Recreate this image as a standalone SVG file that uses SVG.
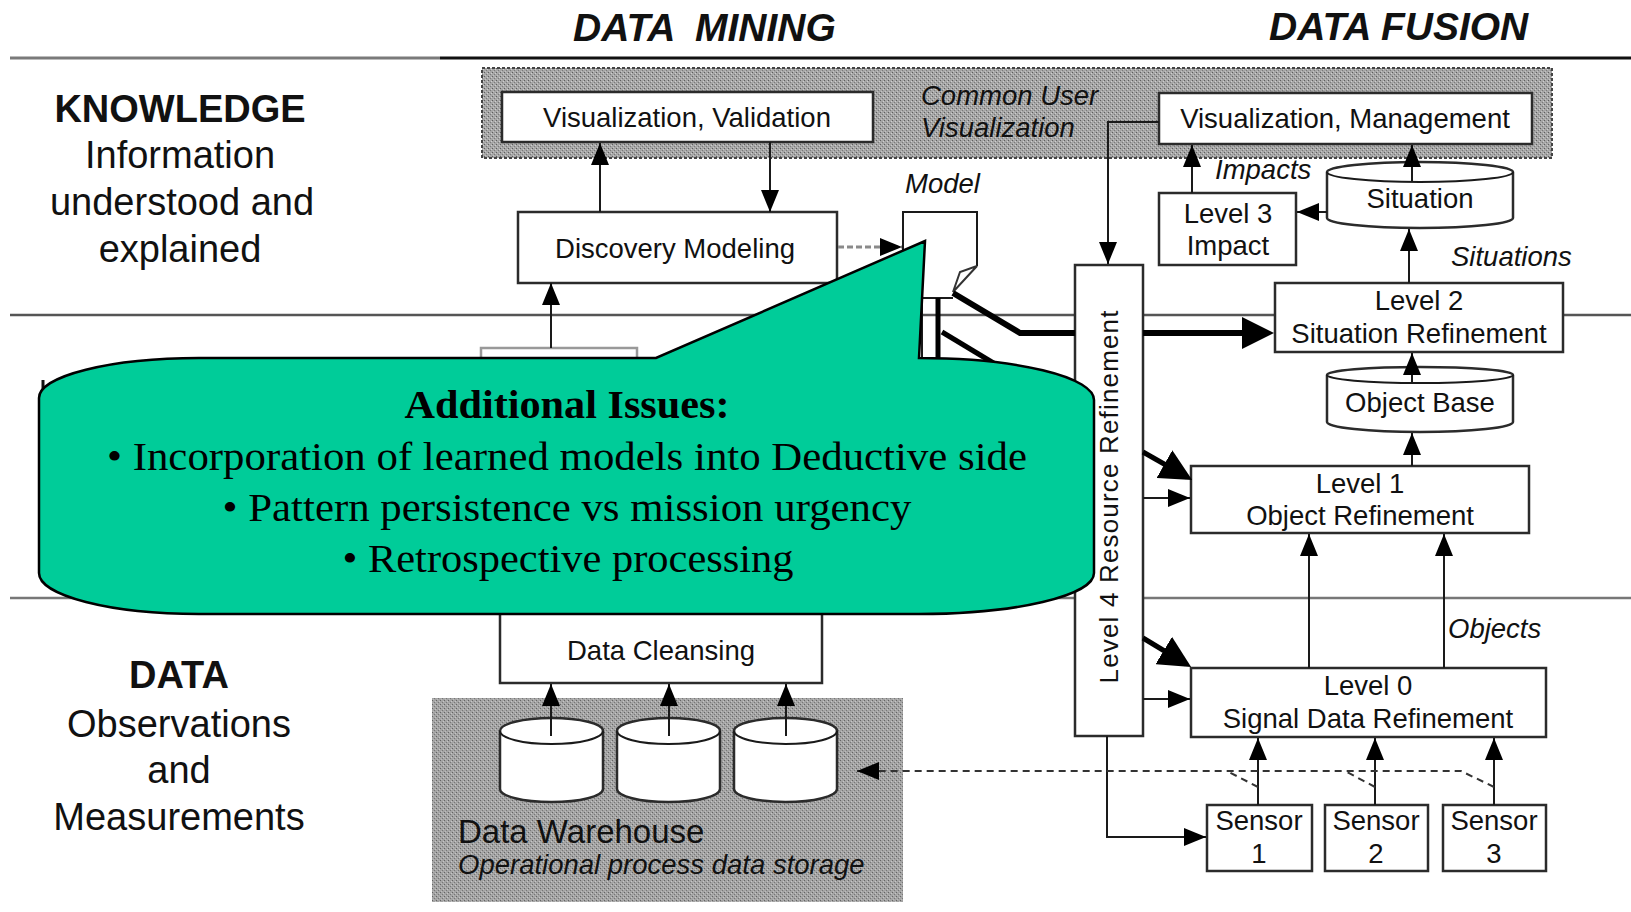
<svg xmlns="http://www.w3.org/2000/svg" width="1631" height="912" viewBox="0 0 1631 912">
<defs>
<style>
.sans{font-family:"Liberation Sans",Arial,sans-serif;fill:#111}
.lbl{font-size:38px;text-anchor:middle}
.bt{font-size:27.5px;text-anchor:middle}
.it{font-size:27.5px;font-style:italic}
.box{fill:#fff;stroke:#2b2b2b;stroke-width:2.5}
.ln{fill:none;stroke:#1a1a1a;stroke-width:2}
.thick{fill:none;stroke:#000;stroke-width:6}
.dash{fill:none;stroke:#333;stroke-width:2;stroke-dasharray:7 5}
.serif{font-family:"Liberation Serif","Times New Roman",serif;fill:#000;text-anchor:middle;font-size:40px}
</style>
<pattern id="ht" width="4" height="4" patternUnits="userSpaceOnUse"><rect width="4" height="4" fill="#a6a6a6"/><rect x="0" y="0" width="1" height="1" fill="#5e5e5e"/><rect x="2" y="2" width="1" height="1" fill="#7a7a7a"/><rect x="3" y="1" width="1" height="1" fill="#cfcfcf"/><rect x="1" y="3" width="1" height="1" fill="#c4c4c4"/></pattern>
<pattern id="ht2" width="4" height="4" patternUnits="userSpaceOnUse"><rect width="4" height="4" fill="#a4a4a4"/><rect x="0" y="0" width="1" height="1" fill="#646464"/><rect x="2" y="2" width="1" height="1" fill="#777"/><rect x="3" y="1" width="1" height="1" fill="#c6c6c6"/><rect x="1" y="3" width="1" height="1" fill="#bdbdbd"/></pattern>
<marker id="ah" viewBox="0 0 22 18" refX="22" refY="9" markerWidth="22" markerHeight="18" markerUnits="userSpaceOnUse" orient="auto"><path d="M0,0 L22,9 L0,18 z" fill="#000"/></marker>
<marker id="ahBig" viewBox="0 0 32 32" refX="26" refY="16" markerWidth="32" markerHeight="32" markerUnits="userSpaceOnUse" orient="auto"><path d="M0,0 L32,16 L0,32 z" fill="#000"/></marker>
</defs>
<rect width="1631" height="912" fill="#fff"/>

<g id="headers" class="sans">
<text x="573" y="41" font-size="39" font-weight="bold" font-style="italic" word-spacing="10">DATA MINING</text>
<text x="1269" y="40" font-size="39" font-weight="bold" font-style="italic">DATA FUSION</text>
</g>

<g id="dividers">
<line x1="10" y1="58" x2="440" y2="58" stroke="#7a7a7a" stroke-width="3"/>
<line x1="440" y1="58" x2="1631" y2="58" stroke="#111" stroke-width="3"/>
<line x1="10" y1="315" x2="1631" y2="315" stroke="#555" stroke-width="2.5"/>
<line x1="10" y1="598" x2="1631" y2="598" stroke="#777" stroke-width="2.5"/>
</g>

<g id="level-labels" class="sans">
<text class="lbl" x="180" y="122" font-weight="bold" font-size="37">KNOWLEDGE</text>
<text class="lbl" x="180" y="168">Information</text>
<text class="lbl" x="182" y="215">understood and</text>
<text class="lbl" x="180" y="262">explained</text>
<text class="lbl" x="179" y="688" font-weight="bold" font-size="37">DATA</text>
<text class="lbl" x="179" y="737">Observations</text>
<text class="lbl" x="179" y="783">and</text>
<text class="lbl" x="179" y="830">Measurements</text>
</g>

<g id="common-user-visualization">
<rect x="482" y="68" width="1070" height="90" fill="url(#ht)" stroke="#444" stroke-width="2" stroke-dasharray="3 2"/>
<text class="sans it" x="921" y="105" fill="#2a2a2a" font-size="27">Common User</text>
<text class="sans it" x="921" y="137" fill="#2a2a2a" font-size="27">Visualization</text>
</g>

<g id="data-warehouse">
<rect x="432" y="698" width="471" height="204" fill="url(#ht2)"/>
<path class="box" d="M500,731 L500,789 A51.5,13 0 0 0 603,789 L603,731 A51.5,13 0 0 0 500,731 Z"/>
<path class="ln" d="M500,731 A51.5,13 0 0 0 603,731"/>
<path class="box" d="M617,731 L617,789 A51.5,13 0 0 0 720,789 L720,731 A51.5,13 0 0 0 617,731 Z"/>
<path class="ln" d="M617,731 A51.5,13 0 0 0 720,731"/>
<path class="box" d="M734,731 L734,789 A51.5,13 0 0 0 837,789 L837,731 A51.5,13 0 0 0 734,731 Z"/>
<path class="ln" d="M734,731 A51.5,13 0 0 0 837,731"/>
<text class="sans" x="458" y="843" font-size="33">Data Warehouse</text>
<text class="sans it" x="458" y="874">Operational process data storage</text>
</g>

<g id="vis-validation"><rect class="box" x="502" y="92" width="371" height="50"/><text class="sans bt" x="687" y="127">Visualization, Validation</text></g>
<g id="vis-management"><rect class="box" x="1159" y="93" width="373" height="51"/><text class="sans bt" x="1345" y="128">Visualization, Management</text></g>
<g id="discovery-modeling"><rect class="box" x="518" y="212" width="319" height="71"/><text class="sans bt" x="675" y="258" font-size="26.5">Discovery Modeling</text></g>
<g id="hidden-box"><rect x="481" y="348" width="156" height="80" fill="#fff" stroke="#999" stroke-width="2.5"/></g>
<g id="model">
<path class="ln" d="M903,300 L903,212 L977,212 L977,266"/>
<polygon points="977,266 960,272 953,292" fill="#fff" stroke="#333" stroke-width="2"/>
<text class="sans it" x="905" y="193">Model</text>
</g>
<g id="level3"><rect class="box" x="1159" y="193" width="137" height="72"/><text class="sans bt" x="1228" y="223">Level 3</text><text class="sans bt" x="1228" y="255">Impact</text></g>
<g id="situation">
<path class="box" d="M1327,172 L1327,218 A93,10 0 0 0 1513,218 L1513,172 A93,10 0 0 0 1327,172 Z"/>
<path class="ln" d="M1327,172 A93,10 0 0 0 1513,172"/>
<text class="sans bt" x="1420" y="208">Situation</text>
</g>
<g id="level2"><rect class="box" x="1275" y="283" width="288" height="69"/><text class="sans bt" x="1419" y="310">Level 2</text><text class="sans bt" x="1419" y="343">Situation Refinement</text></g>
<g id="object-base">
<path class="box" d="M1327,375 L1327,422 A93,10 0 0 0 1513,422 L1513,375 A93,8 0 0 0 1327,375 Z"/>
<path class="ln" d="M1327,375 A93,8 0 0 0 1513,375"/>
<text class="sans bt" x="1420" y="412">Object Base</text>
</g>
<g id="level1"><rect class="box" x="1191" y="466" width="338" height="67"/><text class="sans bt" x="1360" y="493">Level 1</text><text class="sans bt" x="1360" y="525">Object Refinement</text></g>
<g id="level0"><rect class="box" x="1191" y="668" width="355" height="69"/><text class="sans bt" x="1368" y="695">Level 0</text><text class="sans bt" x="1368" y="728">Signal Data Refinement</text></g>
<g id="level4"><rect class="box" x="1075" y="265" width="68" height="471"/><text class="sans" transform="translate(1118,497) rotate(-90)" text-anchor="middle" font-size="26" textLength="373" lengthAdjust="spacing">Level 4 Resource Refinement</text></g>
<g id="sensor1"><rect class="box" x="1207" y="805" width="105" height="66"/><text class="sans bt" x="1259" y="830" font-size="27">Sensor</text><text class="sans bt" x="1259" y="863" font-size="27">1</text></g>
<g id="sensor2"><rect class="box" x="1325" y="805" width="103" height="66"/><text class="sans bt" x="1376" y="830" font-size="27">Sensor</text><text class="sans bt" x="1376" y="863" font-size="27">2</text></g>
<g id="sensor3"><rect class="box" x="1443" y="805" width="103" height="66"/><text class="sans bt" x="1494" y="830" font-size="27">Sensor</text><text class="sans bt" x="1494" y="863" font-size="27">3</text></g>
<g id="data-cleansing"><rect class="box" x="500" y="596" width="322" height="87"/><text class="sans bt" x="661" y="660" font-size="26">Data Cleansing</text></g>

<g id="edge-labels" class="sans">
<text class="it" x="1215" y="179">Impacts</text>
<text class="it" x="1451" y="266">Situations</text>
<text class="it" x="1448" y="638">Objects</text>
</g>

<g id="connectors">
<line class="ln" x1="600" y1="212" x2="600" y2="143" marker-end="url(#ah)"/>
<line class="ln" x1="770" y1="142" x2="770" y2="212" marker-end="url(#ah)"/>
<line class="ln" x1="551" y1="348" x2="551" y2="283" marker-end="url(#ah)"/>
<line x1="838" y1="247" x2="902" y2="247" stroke="#8a8a8a" stroke-width="3" stroke-dasharray="6 3" marker-end="url(#ah)"/>
<path class="ln" d="M1159,122 L1108,122 L1108,264" marker-end="url(#ah)"/>
<line class="ln" x1="1192" y1="193" x2="1192" y2="145" marker-end="url(#ah)"/>
<line class="ln" x1="1412" y1="182" x2="1412" y2="145" marker-end="url(#ah)"/>
<line class="ln" x1="1327" y1="212" x2="1297" y2="212" marker-end="url(#ah)"/>
<line class="ln" x1="1409" y1="283" x2="1409" y2="229" marker-end="url(#ah)"/>
<line class="ln" x1="1412" y1="383" x2="1412" y2="353" marker-end="url(#ah)"/>
<line class="ln" x1="1412" y1="466" x2="1412" y2="433" marker-end="url(#ah)"/>
<line class="ln" x1="1143" y1="498" x2="1190" y2="498" marker-end="url(#ah)"/>
<line class="ln" x1="1143" y1="699" x2="1190" y2="699" marker-end="url(#ah)"/>
<line class="ln" x1="1309" y1="668" x2="1309" y2="534" marker-end="url(#ah)"/>
<line class="ln" x1="1444" y1="668" x2="1444" y2="534" marker-end="url(#ah)"/>
<line class="ln" x1="1258" y1="805" x2="1258" y2="738" marker-end="url(#ah)"/>
<line class="ln" x1="1375" y1="805" x2="1375" y2="738" marker-end="url(#ah)"/>
<line class="ln" x1="1494" y1="805" x2="1494" y2="738" marker-end="url(#ah)"/>
<path class="ln" d="M1107,736 L1107,837 L1206,837" marker-end="url(#ah)"/>
<path class="dash" d="M1494,787 L1461,771 L857,771" marker-end="url(#ah)"/>
<path class="dash" d="M1258,787 L1227,771"/>
<path class="dash" d="M1375,787 L1345,771"/>
<line class="ln" x1="551" y1="736" x2="551" y2="684" marker-end="url(#ah)"/>
<line class="ln" x1="669" y1="736" x2="669" y2="684" marker-end="url(#ah)"/>
<line class="ln" x1="786" y1="736" x2="786" y2="684" marker-end="url(#ah)"/>
<path class="thick" d="M953,293 L1020,333 L1075,333"/>
<line class="thick" x1="1143" y1="333" x2="1268" y2="333" marker-end="url(#ahBig)"/>
<line class="ln" x1="922" y1="298" x2="953" y2="298"/>
<line class="ln" x1="922" y1="298" x2="922" y2="365"/>
<line x1="938" y1="298" x2="938" y2="365" stroke="#000" stroke-width="5"/>
<line x1="942" y1="332" x2="1010" y2="373" stroke="#000" stroke-width="5"/>
<line x1="1143" y1="452" x2="1187" y2="477" stroke="#000" stroke-width="5" marker-end="url(#ahBig)"/>
<line x1="1143" y1="638" x2="1186" y2="664" stroke="#000" stroke-width="5" marker-end="url(#ahBig)"/>
<line x1="43" y1="380" x2="43" y2="398" stroke="#111" stroke-width="3"/>
</g>

<g id="callout">
<path d="M39,398 A160,40 0 0 1 199,358 L656,358 L925,241 L919,358 A175,42 0 0 1 1094,400 L1094,573 A175,41 0 0 1 919,614 L199,614 A160,41 0 0 1 39,573 Z" fill="#00CC99" stroke="#000" stroke-width="2.5"/>
<text class="serif" x="567" y="418" font-weight="bold" textLength="325" lengthAdjust="spacingAndGlyphs">Additional Issues:</text>
<text class="serif" x="567" y="470" textLength="920" lengthAdjust="spacingAndGlyphs">• Incorporation of learned models into Deductive side</text>
<text class="serif" x="567" y="521" textLength="689" lengthAdjust="spacingAndGlyphs">• Pattern persistence vs mission urgency</text>
<text class="serif" x="568" y="572" textLength="451" lengthAdjust="spacingAndGlyphs">• Retrospective processing</text>
</g>
</svg>
